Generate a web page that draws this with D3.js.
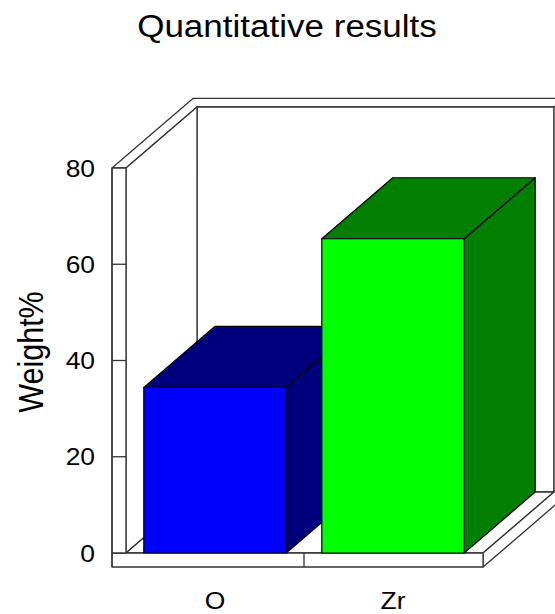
<!DOCTYPE html>
<html>
<head>
<meta charset="utf-8">
<script src="https://cdn.jsdelivr.net/npm/d3@7"></script>
<style>
  html, body { margin: 0; padding: 0; background: #fff; }
  svg { display: block; font-family: "Liberation Sans", Arial, sans-serif; }
</style>
</head>
<body>
<svg id="chart" width="555" height="614"></svg>
<script>
// Elemental composition (weight %)
const categories = ["O", "Zr"];
const weights = [34.4, 65.3];
const frontColors = ["#0000ff", "#00ff00"];
const shadeColors = ["#00007f", "#007f00"];
const tickValues = [0, 20, 40, 60, 80];

const svg = d3.select("#chart");

// Front-plane scales
const y = d3.scaleLinear().domain([0, 80]).range([553, 168]);
const x = d3.scaleBand().domain(categories).range([126, 482])
  .paddingInner(0.2).paddingOuter(0.1);

// Oblique depth projection: a point at depth z (0..1) shifts up and right
const DX = 71, DY = 61;
const WALL = 0.14;           // back-wall thickness as a fraction of depth
const SLAB = 14;             // thickness of the left wall and floor slabs
const left0 = 112, left1 = 126, right1 = 483;
const yTop = y(80), yBase = y(0), yFloor = yBase + SLAB;
const P = (px, py, z) => [px + DX * z, py - DY * z];
const poly = pts => pts.map(p => p.join(",")).join(" ");
const zOut = 1 + WALL;

const frame = svg.append("g")
  .attr("fill", "#fff").attr("stroke", "#333")
  .attr("stroke-width", 1.3).attr("stroke-linejoin", "round");

// Top faces of the left wall and back wall (one L-shaped rim)
frame.append("polygon").attr("points", poly([
  [left0, yTop], P(left0, yTop, zOut), P(right1 + 40, yTop, zOut),
  P(right1 + 40, yTop, 1), P(left1, yTop, 1), [left1, yTop]
]));

// Inner face of the back wall
frame.append("polygon").attr("points", poly([
  P(left1, yTop, 1), P(right1, yTop, 1), P(right1, yBase, 1), P(left1, yBase, 1)
]));
// Right edge face of the back wall
frame.append("polygon").attr("points", poly([
  P(right1, yTop, 1), P(right1, yTop, zOut), P(right1, yBase, zOut), P(right1, yBase, 1)
]));

// Inner face of the left wall
frame.append("polygon").attr("points", poly([
  [left1, yTop], P(left1, yTop, 1), P(left1, yBase, 1), [left1, yBase]
]));

// Floor: top, right side, front
frame.append("polygon").attr("points", poly([
  [left1, yBase], [right1, yBase], P(right1, yBase, 1), P(left1, yBase, 1)
]));
frame.append("polygon").attr("points", poly([
  [right1, yBase], P(right1, yBase, zOut), P(right1, yFloor, zOut), [right1, yFloor]
]));
frame.append("polygon").attr("points", poly([
  [left0, yBase], [right1, yBase], [right1, yFloor], [left0, yFloor]
]));

// Left wall front face
frame.append("polygon").attr("points", poly([
  [left0, yTop], [left1, yTop], [left1, yBase], [left0, yBase]
]));
frame.append("line")
  .attr("x1", left0).attr("x2", left0).attr("y1", yTop).attr("y2", yFloor);

// Category dividers on the floor front
const bounds = categories.slice(1).map(c => x(c) - x.step() * x.paddingInner() / 2);
frame.selectAll("line.div").data(bounds).join("line").attr("class", "div")
  .attr("x1", d => d).attr("x2", d => d)
  .attr("y1", yBase).attr("y2", yFloor);

// Tick marks across the left wall
frame.selectAll("line.tick").data(tickValues.filter(v => v > 0 && v < 80))
  .join("line").attr("class", "tick")
  .attr("x1", left0).attr("x2", left1)
  .attr("y1", d => y(d)).attr("y2", d => y(d));

// Bars: shaded side and top, bright front
const bars = svg.append("g").attr("stroke", "#000").attr("stroke-width", 1.2)
  .attr("stroke-linejoin", "round");
categories.forEach((c, i) => {
  const x0 = x(c), x1 = x(c) + x.bandwidth(), yt = y(weights[i]);
  const g = bars.append("g");
  g.append("polygon").attr("fill", shadeColors[i]).attr("points", poly([
    [x1, yt], P(x1, yt, 1), P(x1, yBase, 1), [x1, yBase]
  ]));
  g.append("polygon").attr("fill", shadeColors[i]).attr("points", poly([
    [x0, yt], P(x0, yt, 1), P(x1, yt, 1), [x1, yt]
  ]));
  g.append("rect").attr("fill", frontColors[i])
    .attr("x", x0).attr("y", yt).attr("width", x.bandwidth()).attr("height", yBase - yt);
});

// Y tick labels
svg.append("g").selectAll("text").data(tickValues).join("text")
  .attr("transform", d => `translate(95,${y(d) + 8.5}) scale(1.1,1)`)
  .attr("text-anchor", "end").attr("font-size", 24).attr("fill", "#000")
  .text(d => d);

// Category labels
svg.append("g").selectAll("text").data(categories).join("text")
  .attr("transform", d => `translate(${x(d) + x.bandwidth() / 2},609) scale(1.1,1)`)
  .attr("text-anchor", "middle").attr("font-size", 24).attr("fill", "#000")
  .text(d => d);

// Axis title
svg.append("text")
  .attr("transform", "translate(43,352) scale(1.15,1) rotate(-90)")
  .attr("text-anchor", "middle").attr("font-size", 30.5).attr("fill", "#000")
  .text("Weight%");

// Chart title
svg.append("text")
  .attr("transform", "translate(287,37) scale(1.13,1)")
  .attr("text-anchor", "middle").attr("font-size", 31).attr("fill", "#000")
  .text("Quantitative results");
</script>
</body>
</html>
